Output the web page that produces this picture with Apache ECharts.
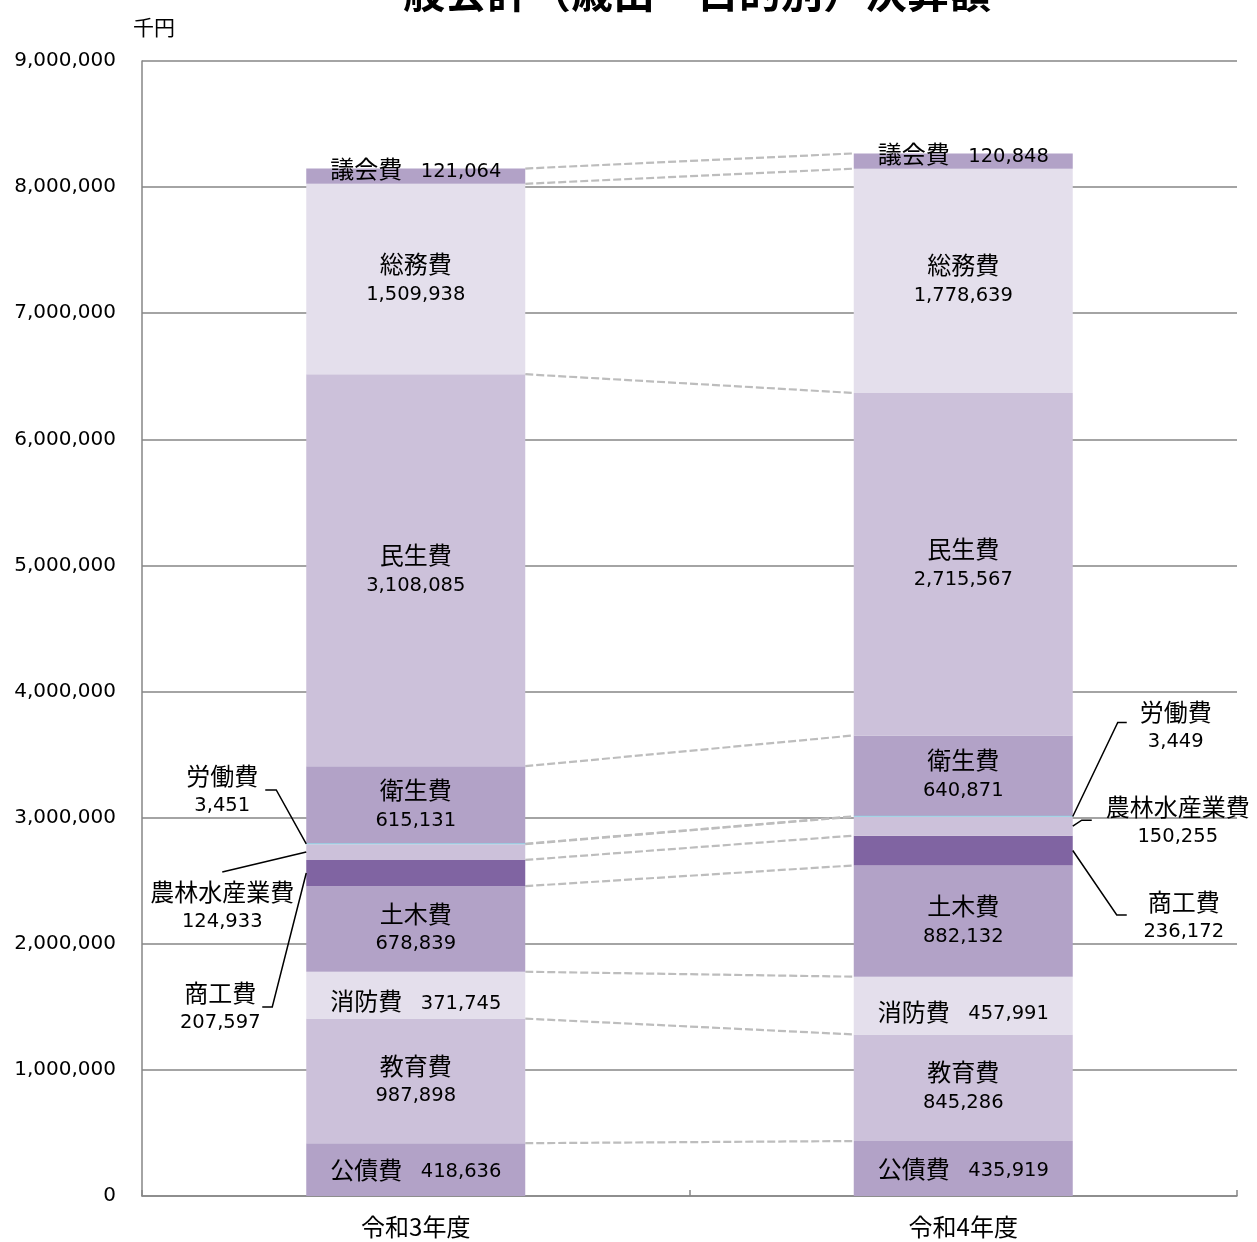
<!DOCTYPE html>
<html>
<head>
<meta charset="utf-8">
<script src="https://cdn.jsdelivr.net/npm/echarts@6/dist/echarts.min.js"></script>
<style>
  html, body { margin: 0; padding: 0; background: #fff; }
  #chart { width: 1257px; height: 1242px; }
</style>
</head>
<body>
<div id="chart"></div>
<script>
// 年度
const years = ['令和3年度', '令和4年度'];
// 目的別の費目（下から積み上げ順）
const itemNames = ['公債費', '教育費', '消防費', '土木費', '商工費', '農林水産業費', '労働費', '衛生費', '民生費', '総務費', '議会費'];
// 決算額（千円）
const r3Values = [418636, 987898, 371745, 678839, 207597, 124933, 3451, 615131, 3108085, 1509938, 121064];
const r4Values = [435919, 845286, 457991, 882132, 236172, 150255, 3449, 640871, 2715567, 1778639, 120848];
// 縦軸の目盛
const yMax = 9000000;
const yStep = 1000000;

const CJK = '"Noto Sans CJK JP", sans-serif';
const NUM = '"DejaVu Sans", "Noto Sans CJK JP", sans-serif';
const colors = ['#b2a2c7', '#ccc1da', '#e4dfec', '#b2a2c7', '#8064a2', '#ccc1da', '#8fd0e3', '#b2a2c7', '#ccc1da', '#e4dfec', '#b2a2c7'];
// ラベルの出し方: two = 2行, one = 1行, out = 引出線
const labelMode = ['one', 'two', 'one', 'two', 'out', 'out', 'out', 'two', 'two', 'two', 'one'];
const labelOffset = { '議会費': [0, -7], '消防費': [0, 6] };

const fmt = v => v.toLocaleString('en-US');
const cumulative = arr => { let s = 0; return arr.map(v => (s += v)); };
const cum3 = cumulative(r3Values);
const cum4 = cumulative(r4Values);
const BAR_RATIO = 0.4;

const richStyles = {
  n: { fontFamily: CJK, fontSize: 24, color: '#000', lineHeight: 31 },
  v: { fontFamily: NUM, fontSize: 19.5, color: '#000', lineHeight: 31 },
  s: { fontFamily: NUM, fontSize: 19.5, color: '#000', lineHeight: 31, padding: [5, 0, 0, 0] }
};

const barSeries = itemNames.map((name, i) => ({
  name,
  type: 'bar',
  stack: 'total',
  barWidth: (BAR_RATIO * 100) + '%',
  barMinHeight: labelMode[i] === 'out' ? 1 : 0,
  z: name === '労働費' ? 3 : 2,
  itemStyle: { color: colors[i] },
  emphasis: { disabled: true },
  label: {
    show: labelMode[i] !== 'out',
    position: 'inside',
    offset: labelOffset[name] || [0, 0],
    color: '#000',
    lineHeight: 31,
    rich: richStyles,
    formatter: p => labelMode[i] === 'two'
      ? '{n|' + p.seriesName + '}\n{v|' + fmt(p.value) + '}'
      : '{n|' + p.seriesName + '}{s|   ' + fmt(p.value) + '}'
  },
  data: [r3Values[i], r4Values[i]]
}));

// 年度間で同じ境界を結ぶ破線
const connectorSeries = {
  type: 'custom',
  silent: true,
  z: 1,
  encode: { x: 0, y: [1, 2] },
  data: cum3.map((v, i) => [0, v, cum4[i]]),
  renderItem(params, api) {
    const a = api.coord([0, api.value(1)]);
    const b = api.coord([1, api.value(2)]);
    const half = api.size([1, 0])[0] * BAR_RATIO / 2;
    return {
      type: 'line',
      shape: { x1: a[0] + half, y1: a[1], x2: b[0] - half, y2: b[1] },
      style: { stroke: '#bdbdbd', lineWidth: 2.2, lineDash: [8, 3] }
    };
  }
};

// 小さい費目の引出線とラベル（棒の端からのずれ）
const calloutItems = [
  { cat: 0, idx: 6, path: [[-30, -54], [-41, -54]], text: [-84, -53] },
  { cat: 0, idx: 5, path: [[-84, 20]], text: [-84, 55] },
  { cat: 0, idx: 4, path: [[-34, 134], [-44, 134]], text: [-86, 135] },
  { cat: 1, idx: 6, path: [[45, -94], [54, -94]], text: [103, -90] },
  { cat: 1, idx: 5, path: [[9, -6], [19, -6]], text: [105, -4] },
  { cat: 1, idx: 4, path: [[44, 64.5], [54, 64.5]], text: [111, 66] }
];
const calloutSeries = {
  type: 'custom',
  silent: true,
  z: 5,
  encode: { x: 0, y: [1, 2] },
  data: calloutItems.map(c => {
    const cum = c.cat === 0 ? cum3 : cum4;
    const vals = c.cat === 0 ? r3Values : r4Values;
    return [c.cat, cum[c.idx] - vals[c.idx], cum[c.idx]];
  }),
  renderItem(params, api) {
    const c = calloutItems[params.dataIndex];
    const vals = c.cat === 0 ? r3Values : r4Values;
    const mid = (api.value(1) + api.value(2)) / 2;
    const p = api.coord([api.value(0), mid]);
    const half = api.size([1, 0])[0] * BAR_RATIO / 2;
    const ex = p[0] + (c.cat === 0 ? -half : half);
    const ey = p[1];
    const pts = [[ex, ey]].concat(c.path.map(d => [ex + d[0], ey + d[1]]));
    return {
      type: 'group',
      children: [
        { type: 'polyline', shape: { points: pts }, style: { stroke: '#000', lineWidth: 1.5, fill: null } },
        {
          type: 'text', x: ex + c.text[0], y: ey + c.text[1],
          style: {
            text: '{n|' + itemNames[c.idx] + '}\n{v|' + fmt(vals[c.idx]) + '}',
            rich: {
              n: { fontFamily: CJK, fontSize: 24, fill: '#000', lineHeight: 30, align: 'center' },
              v: { fontFamily: NUM, fontSize: 19.5, fill: '#000', lineHeight: 30, align: 'center' }
            },
            align: 'center', verticalAlign: 'middle',
            textAlign: 'center', textVerticalAlign: 'middle',
            fill: '#000'
          }
        }
      ]
    };
  }
};

const chart = echarts.init(document.getElementById('chart'), null, { renderer: 'canvas' });
chart.setOption({
  animation: false,
  backgroundColor: '#fff',
  textStyle: { fontFamily: CJK },
  grid: { left: 142, right: 20, top: 61, bottom: 46, containLabel: false },
  xAxis: {
    type: 'category',
    data: years,
    axisLine: { lineStyle: { color: '#868686', width: 1.5 } },
    axisTick: { show: true, inside: true, length: 6, lineStyle: { color: '#868686', width: 1.5 } },
    axisLabel: { color: '#000', fontSize: 24, fontFamily: CJK, margin: 19 }
  },
  yAxis: {
    type: 'value',
    min: 0,
    max: yMax,
    interval: yStep,
    axisLine: { show: true, lineStyle: { color: '#868686', width: 1.5 } },
    axisTick: { show: false },
    splitLine: { lineStyle: { color: '#868686', width: 1.5 } },
    axisLabel: { color: '#000', fontSize: 20, fontFamily: NUM, margin: 26, formatter: v => fmt(v) }
  },
  graphic: [
    {
      type: 'text', x: 676, y: -8,
      style: {
        text: '一般会計（歳出・目的別）決算額',
        align: 'center', verticalAlign: 'middle',
        textAlign: 'center', textVerticalAlign: 'middle',
        fontSize: 42, fontWeight: 'bold', fontFamily: CJK, fill: '#000'
      }
    },
    {
      type: 'text', x: 154, y: 27,
      style: {
        text: '千円', align: 'center', verticalAlign: 'middle',
        textAlign: 'center', textVerticalAlign: 'middle',
        fontSize: 21, fontFamily: CJK, fill: '#000'
      }
    }
  ],
  series: [connectorSeries].concat(barSeries, [calloutSeries])
});
</script>
</body>
</html>
